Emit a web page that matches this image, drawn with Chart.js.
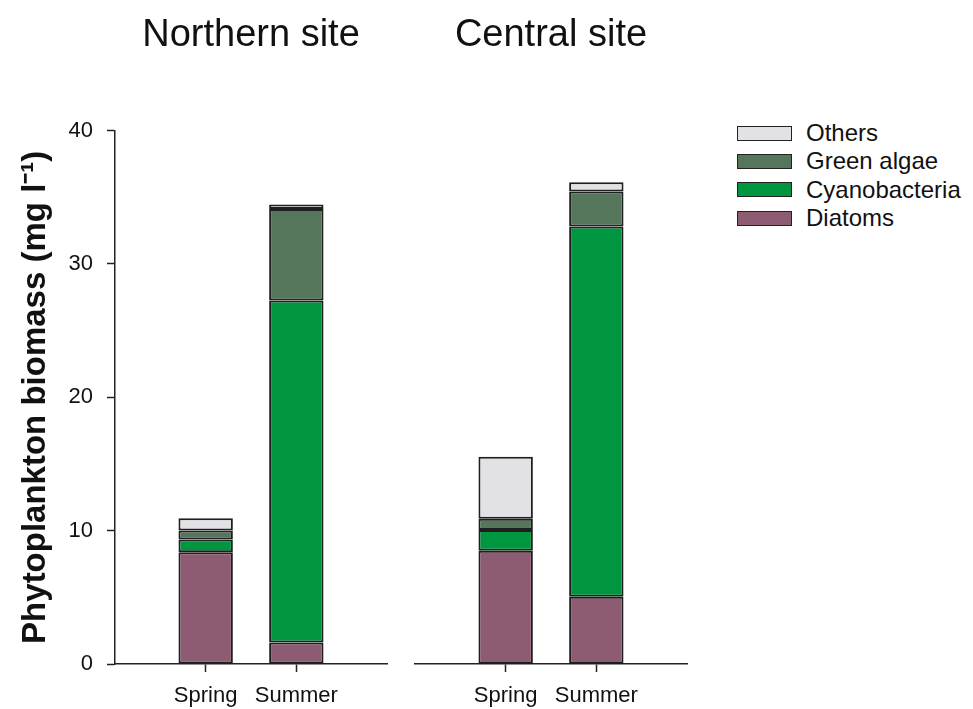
<!DOCTYPE html>
<html>
<head>
<meta charset="utf-8">
<script src="https://cdn.jsdelivr.net/npm/chart.js@4.4.1/dist/chart.umd.min.js"></script>
<style>
  body { margin: 0; background: #fff; }
  #wrap { position: relative; width: 973px; height: 709px; overflow: hidden; }
  canvas { position: absolute; top: 0; }
  #north { left: 0; }
  #central { left: 400px; }
  #legend { position: absolute; left: 737px; top: 119px; font-family: "Liberation Sans", Arial, sans-serif; font-size: 24px; color: #111; }
  .row { display: flex; align-items: center; height: 28.3px; }
  .box { width: 53px; height: 13px; border: 1.5px solid #222; margin-right: 14px; }
</style>
</head>
<body>
<div id="wrap">
  <canvas id="north" width="400" height="709"></canvas>
  <canvas id="central" width="300" height="709"></canvas>
  <div id="legend"></div>
</div>
<script>
// phytoplankton biomass (mg/l), stacked bottom to top
var seasons = ['Spring', 'Summer'];
var groups = ['Diatoms', 'Cyanobacteria', 'Green algae', 'Others'];
var groupColors = ['#8E5C72', '#00953F', '#56765C', '#E2E1E5'];

var northDiatoms = [8.38, 1.61];
var northCyano   = [0.95, 25.65];
var northGreen   = [0.68, 6.86];
var northOthers  = [0.92, 0.34];

var centralDiatoms = [8.49, 5.05];
var centralCyano   = [1.55, 27.75];
var centralGreen   = [0.86, 2.64];
var centralOthers  = [4.65, 0.69];

var yTicks = [0, 10, 20, 30, 40];

var FONT = '"Liberation Sans", Arial, sans-serif';

function makeSets(series) {
	return series.map(function (vals, g) {
		return {
			label: groups[g],
			data: vals.map(function (v, i) { return { x: i + 1, y: v }; }),
			backgroundColor: groupColors[g],
			borderColor: '#1e1e1e',
			borderWidth: 2,
			borderSkipped: false,
			inflateAmount: 0,
			categoryPercentage: 1,
			barPercentage: 0.6
		};
	});
}

function makeConfig(title, series, showY, padding) {
	return {
		type: 'bar',
		data: { datasets: makeSets(series) },
		options: {
			responsive: false,
			animation: false,
			devicePixelRatio: 1,
			layout: { padding: padding },
			plugins: {
				legend: { display: false },
				tooltip: { enabled: false },
				title: {
					display: true,
					text: title,
					fullSize: false,
					color: '#111',
					font: { family: FONT, size: 38, weight: 'normal' },
					padding: { top: 13, bottom: 72 }
				}
			},
			scales: {
				x: {
					type: 'linear',
					stacked: true,
					offset: false,
					min: 0,
					max: 3,
					afterBuildTicks: function (axis) {
						axis.ticks = seasons.map(function (s, i) { return { value: i + 1 }; });
					},
					afterFit: function (axis) { axis.height = 45; },
					ticks: {
						color: '#111',
						font: { family: FONT, size: 22 },
						padding: 11,
						maxRotation: 0,
						autoSkip: false,
						callback: function (v) { return seasons[v - 1]; }
					},
					grid: { offset: false, drawOnChartArea: false, drawTicks: true, tickLength: 8, color: '#222', tickWidth: 1.5 },
					border: { display: true, color: '#222', width: 1.5 }
				},
				y: {
					display: showY,
					stacked: true,
					min: 0,
					max: 40,
					afterBuildTicks: function (axis) {
						axis.ticks = yTicks.map(function (v) { return { value: v }; });
					},
					afterFit: function (axis) { if (showY) axis.width = 115; },
					ticks: {
						color: '#111',
						font: { family: FONT, size: 22 },
						padding: 14
					},
					grid: { drawOnChartArea: false, drawTicks: true, tickLength: 8, color: '#222', tickWidth: 1.5 },
					border: { display: true, color: '#222', width: 1.5 },
					title: {
						display: true,
						text: 'Phytoplankton biomass (mg l\u207B\u00B9)',
						color: '#111',
						font: { family: FONT, size: 33, weight: 'bold' },
						padding: { top: 16, bottom: 0 }
					}
				}
			}
		}
	};
}

new Chart(document.getElementById('north').getContext('2d'),
	makeConfig('Northern site', [northDiatoms, northCyano, northGreen, northOthers], true,
		{ left: 0, right: 13, top: 0, bottom: 0 }));

new Chart(document.getElementById('central').getContext('2d'),
	makeConfig('Central site', [centralDiatoms, centralCyano, centralGreen, centralOthers], false,
		{ left: 15, right: 13, top: 0, bottom: 0 }));

// legend, top entry is the top of the stack
var legend = document.getElementById('legend');
for (var g = groups.length - 1; g >= 0; g--) {
	var row = document.createElement('div');
	row.className = 'row';
	var box = document.createElement('div');
	box.className = 'box';
	box.style.background = groupColors[g];
	var txt = document.createElement('span');
	txt.textContent = groups[g];
	row.appendChild(box);
	row.appendChild(txt);
	legend.appendChild(row);
}
</script>
</body>
</html>
